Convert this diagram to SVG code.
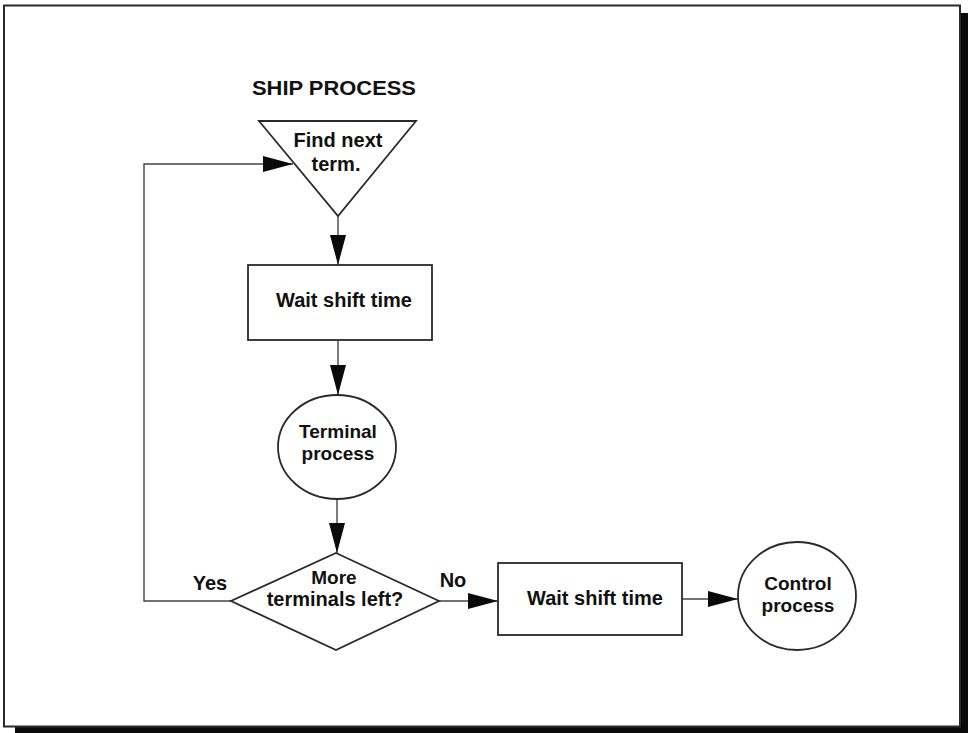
<svg xmlns="http://www.w3.org/2000/svg" width="968" height="733" viewBox="0 0 968 733">
  <style>
    .frame { fill: #ffffff; stroke: #2a2a2a; stroke-width: 2; }
    .shadow { fill: #0a0a0a; }
    .shape { fill: #ffffff; stroke: #2a2a2a; stroke-width: 1.8; }
    .conn { fill: none; stroke: #444444; stroke-width: 1.4; }
    .lbl { font-family: "Liberation Sans", Arial, Helvetica, sans-serif; font-weight: bold; font-size: 20px; fill: #111111; text-anchor: middle; }
    .sm { font-size: 19px; }
    .title { font-family: "Liberation Sans", Arial, Helvetica, sans-serif; font-weight: bold; font-size: 21px; fill: #111111; }
  </style>
  <defs>
    <marker id="arrow" markerUnits="userSpaceOnUse" markerWidth="31" markerHeight="17" refX="30" refY="8.5" orient="auto">
      <path d="M0,0.5 L30,8.5 L0,16.5 Z" fill="#0a0a0a"/>
    </marker>
  </defs>

  <!-- page frame with drop shadow -->
  <rect class="shadow" x="960" y="13" width="8" height="720"/>
  <rect class="shadow" x="15" y="727" width="953" height="6"/>
  <rect class="frame" x="4" y="5.5" width="956" height="721"/>

  <text class="title" x="252" y="95" textLength="164" lengthAdjust="spacingAndGlyphs">SHIP PROCESS</text>

  <!-- connectors -->
  <g id="connectors">
    <line class="conn" x1="338" y1="216" x2="338" y2="265" marker-end="url(#arrow)"/>
    <line class="conn" x1="338" y1="340" x2="338" y2="395" marker-end="url(#arrow)"/>
    <line class="conn" x1="337" y1="499" x2="337" y2="553" marker-end="url(#arrow)"/>
    <polyline class="conn" points="231,601 144,601 144,164 293,164" marker-end="url(#arrow)"/>
    <line class="conn" x1="439" y1="601" x2="498" y2="601" marker-end="url(#arrow)"/>
    <line class="conn" x1="682" y1="599" x2="738" y2="599" marker-end="url(#arrow)"/>
  </g>

  <g id="find-next-term">
    <polygon class="shape" points="259,121 416,121 338,216"/>
    <text class="lbl" x="338" y="147">Find next</text>
    <text class="lbl" x="336" y="171">term.</text>
  </g>

  <g id="wait-shift-time-1">
    <rect class="shape" x="248" y="265" width="184" height="75"/>
    <text class="lbl" x="344" y="307">Wait shift time</text>
  </g>

  <g id="terminal-process">
    <ellipse class="shape" cx="337" cy="447" rx="59" ry="52"/>
    <text class="lbl sm" x="338" y="438">Terminal</text>
    <text class="lbl sm" x="338" y="460">process</text>
  </g>

  <g id="more-terminals-left">
    <polygon class="shape" points="336,553 439,601 336,650 231,601"/>
    <text class="lbl sm" x="334" y="584">More</text>
    <text class="lbl" x="335" y="606">terminals left?</text>
  </g>

  <g id="edge-labels">
    <text class="lbl" x="210" y="590">Yes</text>
    <text class="lbl" x="453" y="587">No</text>
  </g>

  <g id="wait-shift-time-2">
    <rect class="shape" x="498" y="563" width="184" height="72"/>
    <text class="lbl" x="595" y="605">Wait shift time</text>
  </g>

  <g id="control-process">
    <ellipse class="shape" cx="797" cy="596" rx="59" ry="54"/>
    <text class="lbl sm" x="798" y="590">Control</text>
    <text class="lbl sm" x="798" y="612">process</text>
  </g>
</svg>
